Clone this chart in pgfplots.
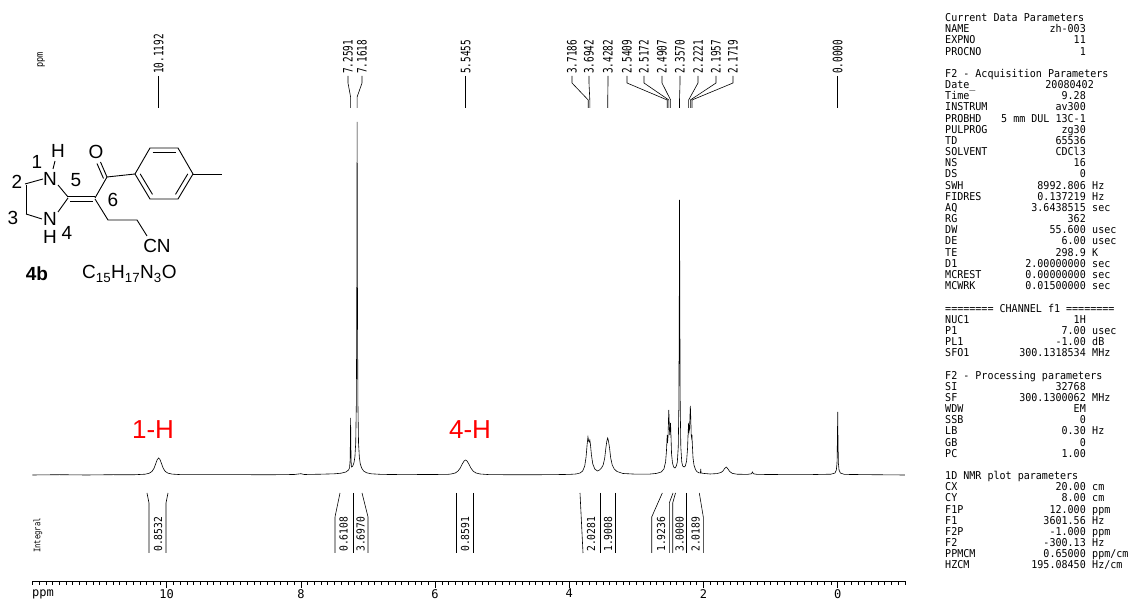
\documentclass[border=0pt]{standalone}
\usepackage{fontspec}
\setmainfont{Liberation Sans}
\newfontfamily\bru{DejaVu Sans Mono}
\usepackage{graphicx}
\usepackage{pgfplots}
\pgfplotsset{compat=1.18}
\newcommand\pt[1]{\scalebox{0.93}[1]{\bru\fontsize{10.8}{10.8}\selectfont #1}}
\newcommand\prow[4]{%
  \node[anchor=base west] at (945,{21.6+11.17*#1}) {\pt{#2}};
  \node[anchor=base east] at (1086,{21.6+11.17*#1}) {\pt{#3}};
  \node[anchor=base west] at (1092,{21.6+11.17*#1}) {\pt{#4}};}
\newcommand\ptitle[2]{\node[anchor=base west] at (945,{21.6+11.17*#1}) {\pt{#2}};}
\newcommand\plab[2]{\node[anchor=west,rotate=90,inner sep=0pt] at (#1,74) {\scalebox{0.72}[1]{\bru\fontsize{13}{13}\selectfont #2}};}
\newcommand\ilab[2]{\node[anchor=west,rotate=90,inner sep=0pt] at (#1,552) {\scalebox{0.88}[1]{\bru\fontsize{11}{11}\selectfont #2}};}
\begin{document}
\begin{tikzpicture}
\useasboundingbox (0,0) rectangle (1131pt,601pt);
\begin{axis}[at={(32.5pt,20pt)}, anchor=south west, scale only axis,
  width=872.3pt, height=581pt, xmin=-1, xmax=12, x dir=reverse,
  ymin=-106, ymax=475, axis y line=none, axis x line*=bottom,
  x axis line style={-, line width=0.6pt},
  xtick={0,2,4,6,8,10}, minor xtick={-1,-0.9,...,12},
  tick align=outside, major tick length=7pt, minor tick length=4pt,
  every tick/.style={black, line width=0.6pt},
  /pgf/number format/assume math mode=true,
  xticklabel style={font=\bru\fontsize{12}{12}\selectfont, inner sep=1pt},
  clip=false]
\addplot[black, line width=0.6pt] coordinates {
(12,0)(11.6,0.3)(11.2,0)(10.8,0.3)(10.5,0.2)(10.32,0.8)(10.26,1.8)(10.22,3.5)(10.19,6.5)(10.165,11)(10.14,15.5)(10.12,17)(10.10,15.5)(10.075,11)(10.05,6.5)(10.02,3.5)(9.98,1.8)(9.92,0.9)(9.8,0.4)(9.5,0.3)(9.0,0.4)(8.5,0.2)(8.1,0.5)(8.0,1.3)(7.95,0.5)(7.7,0.8)(7.5,1.2)(7.4,1.8)(7.33,3)(7.29,5)(7.275,7)(7.267,14)(7.262,35)(7.259,57)(7.256,35)(7.252,14)(7.246,8)(7.23,8.5)(7.21,12)(7.195,18)(7.183,32)(7.174,70)(7.168,150)(7.164,280)(7.162,353)(7.160,280)(7.156,150)(7.150,70)(7.141,32)(7.129,18)(7.115,11)(7.095,7)(7.065,4)(7.02,2.2)(6.95,1.2)(6.8,0.6)(6.5,0.4)(6.0,0.5)(5.8,0.7)(5.76,1)(5.70,2)(5.66,3.8)(5.625,7)(5.595,11)(5.568,14)(5.546,15)(5.524,14)(5.497,11)(5.467,7)(5.432,3.8)(5.39,2)(5.33,1)(5.2,0.4)(5.0,0.3)(4.6,0.2)(4.2,0.4)(4.0,0.6)(3.9,1)(3.84,2)(3.80,4)(3.77,9)(3.75,18)(3.735,30)(3.722,38)(3.712,34)(3.703,33)(3.694,35)(3.684,30)(3.67,20)(3.65,11)(3.62,6)(3.58,4)(3.55,5)(3.52,7)(3.495,10)(3.472,17)(3.455,27)(3.44,34)(3.428,37)(3.416,34)(3.40,27)(3.383,17)(3.36,10)(3.33,6)(3.29,3.5)(3.2,1.5)(3.0,0.8)(2.8,0.9)(2.7,1.6)(2.63,3)(2.59,6)(2.565,13)(2.552,24)(2.545,34)(2.541,40)(2.536,32)(2.529,38)(2.522,55)(2.517,65)(2.512,55)(2.504,40)(2.497,45)(2.491,52)(2.485,40)(2.476,21)(2.462,12)(2.445,8)(2.425,7)(2.405,9)(2.39,13)(2.376,28)(2.367,70)(2.361,170)(2.357,275)(2.353,170)(2.347,70)(2.338,28)(2.324,13)(2.31,9)(2.29,8)(2.27,9)(2.252,14)(2.238,26)(2.228,44)(2.222,52)(2.216,43)(2.208,46)(2.200,62)(2.196,69)(2.191,60)(2.183,40)(2.177,37)(2.172,40)(2.166,30)(2.156,17)(2.142,10)(2.12,5.5)(2.10,3.5)(2.07,2.2)(2.046,2)(2.041,6)(2.036,2)(2.0,1.6)(1.9,1)(1.8,1.4)(1.74,2.5)(1.71,4)(1.685,6.5)(1.66,8)(1.635,6)(1.61,3.5)(1.57,1.6)(1.5,0.8)(1.35,0.6)(1.285,1.2)(1.27,3)(1.255,1.2)(1.2,0.6)(0.8,0.4)(0.4,0.4)(0.1,0.8)(0.04,2)(0.02,5)(0.01,12)(0.004,38)(0,63)(-0.004,38)(-0.01,12)(-0.02,5)(-0.04,2)(-0.1,0.6)(-0.5,0.3)(-1,0)
};
\end{axis}
\begin{scope}[shift={(0pt,601pt)}, x=1pt, y=-1pt, every node/.style={inner sep=0pt}]
% bottom ppm label
\node[anchor=base west] at (32,597) {\bru\fontsize{12}{12}\selectfont ppm};
% top-left ppm and Integral
\node[anchor=west,rotate=90] at (41,68) {\scalebox{0.85}[1]{\bru\fontsize{10}{10}\selectfont ppm}};
\node[anchor=west,rotate=90] at (38,553) {\scalebox{0.8}[1]{\bru\fontsize{9}{9}\selectfont Integral}};
% peak labels
\begin{scope}[line width=0.6pt]
\plab{158.7}{10.1192}\draw (158.7,76) -- (158.7,108);
\plab{348}{7.2591}\draw (348,76) -- (348,83) -- (350.6,97) -- (350.6,108);
\plab{362}{7.1618}\draw (362,76) -- (362,83) -- (357.1,97) -- (357.1,108);
\plab{465.6}{5.5455}\draw (465.6,76) -- (465.6,108);
\plab{572}{3.7186}\draw (572,76) -- (572,83) -- (588.2,100) -- (588.2,108);
\plab{589}{3.6942}\draw (589,76) -- (589,83) -- (589.8,100) -- (589.8,108);
\plab{608}{3.4282}\draw (608,76) -- (608,83) -- (607.7,100) -- (607.7,108);
\plab{627}{2.5409}\draw (627,76) -- (627,83) -- (667.2,100) -- (667.2,108);
\plab{644}{2.5172}\draw (644,76) -- (644,83) -- (668.8,100) -- (668.8,108);
\plab{662}{2.4907}\draw (662,76) -- (662,83) -- (670.6,100) -- (670.6,108);
\plab{680}{2.3570}\draw (680,76) -- (680,83) -- (679.5,100) -- (679.5,108);
\plab{698}{2.2221}\draw (698,76) -- (698,83) -- (688.6,100) -- (688.6,108);
\plab{716}{2.1957}\draw (716,76) -- (716,83) -- (690.4,100) -- (690.4,108);
\plab{733}{2.1719}\draw (733,76) -- (733,83) -- (692.0,100) -- (692.0,108);
\plab{837.7}{0.0000}\draw (837.7,76) -- (837.7,108);
% integrals
\draw (147,493) -- (149,503) -- (149,553);
\draw (168,493) -- (166,503) -- (166,553);
\ilab{158}{0.8532}
\draw (340,493) -- (335,517) -- (335,553);
\draw (353,493) -- (353,553);
\draw (362,493) -- (368,517) -- (368,553);
\ilab{343.5}{0.6108}\ilab{360.5}{3.6970}
\draw (456.7,493) -- (456.7,553);
\draw (473.3,493) -- (473.3,553);
\ilab{465}{0.8591}
\draw (580,493) -- (583,553);
\draw (600,493) -- (600,553);
\draw (615.7,493) -- (615.7,553);
\ilab{591}{2.0281}\ilab{608}{1.9008}
\draw (662.3,493) -- (651.7,517) -- (651.7,553);
\draw (673,493) -- (669.3,503) -- (669.3,553);
\ilab{661}{1.9236}
\draw (675.5,493) -- (672.7,503) -- (672.7,553);
\draw (686,493) -- (686,553);
\ilab{679.5}{3.0000}
\draw (699.3,493) -- (703.3,517) -- (703.3,553);
\ilab{695.5}{2.0189}
\end{scope}
% red labels
\node[red] at (153,430) {\fontsize{26}{26}\selectfont 1-H};
\node[red] at (470,430) {\fontsize{26}{26}\selectfont 4-H};
% structure
\begin{scope}[line width=0.9pt]
\draw (25,184) -- (43,179);
\draw (26,185) -- (26,214);
\draw (26,214) -- (42,219);
\draw (58,185) -- (68,197);
\draw (58,212) -- (68,198);
\draw (55,161) -- (53,169);
\draw (68,196.5) -- (95,196.5);
\draw (70,201) -- (93,201);
\draw (95,198) -- (107,177);
\draw (107,177) -- (100.5,162);
\draw (103.5,178.5) -- (97,163.5);
\draw (107,177) -- (135,174);
\draw (135,174) -- (150,148) -- (178,148) -- (193,174) -- (178,199) -- (150,199) -- cycle;
\draw (152.5,152.6) -- (175.5,152.6);
\draw (187.8,173.9) -- (175.5,194.4);
\draw (152.5,194.4) -- (140.2,173.9);
\draw (193,174) -- (222,174);
\draw (95,199) -- (108,220) -- (137,220) -- (147,236);
\end{scope}
\begin{scope}[every node/.style={inner sep=0pt, font=\fontsize{19}{19}\selectfont}]
\node at (58,151) {H};
\node at (37,162) {1};
\node at (50,179) {N};
\node at (17,182) {2};
\node at (76,180) {5};
\node at (96,152) {O};
\node at (113,200) {6};
\node at (13,218) {3};
\node at (50,219) {N};
\node at (50,237) {H};
\node at (67,233) {4};
\node at (157,246) {CN};
\node at (37,274) {\bfseries 4b};
\node[anchor=west] at (82,274) {C\textsubscript{15}H\textsubscript{17}N\textsubscript{3}O};
\end{scope}
% parameter panel
\begin{scope}[every node/.style={inner sep=0pt}]
\ptitle{0}{Current Data Parameters}
\prow{1}{NAME}{zh-003}{}
\prow{2}{EXPNO}{11}{}
\prow{3}{PROCNO}{1}{}
\ptitle{5}{F2 - Acquisition Parameters}
\node[anchor=base west] at (945,{21.6+11.17*6}) {\pt{Date\_}};
\node[anchor=base east] at (1094,{21.6+11.17*6}) {\pt{20080402}};
\prow{7}{Time}{9.28}{}
\prow{8}{INSTRUM}{av300}{}
\prow{9}{PROBHD}{5 mm DUL 13C-1}{}
\prow{10}{PULPROG}{zg30}{}
\prow{11}{TD}{65536}{}
\prow{12}{SOLVENT}{CDCl3}{}
\prow{13}{NS}{16}{}
\prow{14}{DS}{0}{}
\prow{15}{SWH}{8992.806}{Hz}
\prow{16}{FIDRES}{0.137219}{Hz}
\prow{17}{AQ}{3.6438515}{sec}
\prow{18}{RG}{362}{}
\prow{19}{DW}{55.600}{usec}
\prow{20}{DE}{6.00}{usec}
\prow{21}{TE}{298.9}{K}
\prow{22}{D1}{2.00000000}{sec}
\prow{23}{MCREST}{0.00000000}{sec}
\prow{24}{MCWRK}{0.01500000}{sec}
\ptitle{26}{======== CHANNEL f1 ========}
\prow{27}{NUC1}{1H}{}
\prow{28}{P1}{7.00}{usec}
\prow{29}{PL1}{-1.00}{dB}
\prow{30}{SFO1}{300.1318534}{MHz}
\ptitle{32}{F2 - Processing parameters}
\prow{33}{SI}{32768}{}
\prow{34}{SF}{300.1300062}{MHz}
\prow{35}{WDW}{EM}{}
\prow{36}{SSB}{0}{}
\prow{37}{LB}{0.30}{Hz}
\prow{38}{GB}{0}{}
\prow{39}{PC}{1.00}{}
\ptitle{41}{1D NMR plot parameters}
\prow{42}{CX}{20.00}{cm}
\prow{43}{CY}{8.00}{cm}
\prow{44}{F1P}{12.000}{ppm}
\prow{45}{F1}{3601.56}{Hz}
\prow{46}{F2P}{-1.000}{ppm}
\prow{47}{F2}{-300.13}{Hz}
\prow{48}{PPMCM}{0.65000}{ppm/cm}
\prow{49}{HZCM}{195.08450}{Hz/cm}
\end{scope}
\end{scope}
\end{tikzpicture}
\end{document}
